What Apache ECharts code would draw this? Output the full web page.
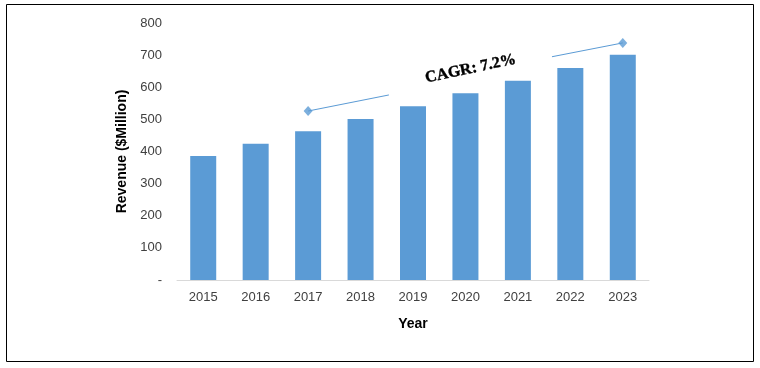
<!DOCTYPE html>
<html>
<head>
<meta charset="utf-8">
<script src="https://cdn.jsdelivr.net/npm/echarts@6/dist/echarts.min.js"></script>
<style>html,body{margin:0;padding:0;background:#fff}#c{width:760px;height:368px}</style>
</head>
<body>
<div id="c"></div>
<script>
var years = ['2015','2016','2017','2018','2019','2020','2021','2022','2023'];
var revenue = [386, 424, 463, 501, 541, 581, 620, 660, 701];
var yTicks = ['-', '100', '200', '300', '400', '500', '600', '700', '800'];
// annotation lines in (category index, value) coordinates
var cagrLine1 = [[2, 526], [3.54, 576]];
var cagrLine2 = [[6.65, 695], [8, 738]];
var cagrText = 'CAGR: 7.2%';
var cagrTextPos = [5.1, 657];

var chart = echarts.init(document.getElementById('c'));
var lineColor = '#5b9bd5';
chart.setOption({
  animation: false,
  backgroundColor: '#fff',
  grid: {left: 177, right: 111, top: 23, bottom: 88},
  xAxis: [{
    type: 'category',
    data: years,
    axisLine: {lineStyle: {color: '#d9d9d9'}},
    axisTick: {lineStyle: {color: '#d9d9d9'}, length: 5},
    axisLabel: {color: '#404040', fontSize: 13, fontFamily: 'Liberation Sans', margin: 11},
    name: 'Year', nameLocation: 'middle', nameGap: 37,
    nameTextStyle: {fontWeight: 'bold', fontSize: 14, color: '#000', fontFamily: 'Liberation Sans'}
  }, {
    type: 'value', min: -0.5, max: 8.5, show: false
  }],
  yAxis: {
    type: 'value', min: 0, max: 800, interval: 100,
    axisLine: {show: false}, axisTick: {show: false}, splitLine: {show: false},
    axisLabel: {color: '#404040', fontSize: 13, fontFamily: 'Liberation Sans', margin: 15,
      formatter: function (v) { return yTicks[Math.round(v / 100)]; }},
    name: 'Revenue ($Million)', nameLocation: 'middle', nameGap: 47,
    nameTextStyle: {fontWeight: 'bold', fontSize: 14, color: '#000', fontFamily: 'Liberation Sans'}
  },
  series: [{
    type: 'bar', data: revenue, barWidth: 26,
    itemStyle: {color: '#5b9bd5'}
  }, {
    type: 'line', xAxisIndex: 1, data: cagrLine1,
    lineStyle: {color: lineColor, width: 1},
    symbol: 'none', itemStyle: {color: lineColor}
  }, {
    type: 'line', xAxisIndex: 1, data: cagrLine2,
    lineStyle: {color: lineColor, width: 1},
    symbol: 'none', itemStyle: {color: lineColor}
  }, {
    type: 'scatter', xAxisIndex: 1, data: [cagrLine1[0], cagrLine2[1]],
    symbol: 'diamond', symbolSize: [9, 10], itemStyle: {color: lineColor}
  }]
});
var p = chart.convertToPixel({xAxisIndex: 1, yAxisIndex: 0}, cagrTextPos);
chart.setOption({
  graphic: [{
    type: 'rect', shape: {x: 6.5, y: 4.5, width: 747, height: 357},
    style: {fill: null, stroke: '#000', lineWidth: 1}, silent: true
  }, {
    type: 'text', x: p[0], y: p[1], rotation: 12 * Math.PI / 180,
    style: {text: cagrText, fontFamily: 'Liberation Serif', fontWeight: 'bold', fontSize: 16,
      fill: '#000', align: 'center', verticalAlign: 'middle',
      stroke: '#000', lineWidth: 0.4}
  }]
});
</script>
</body>
</html>
